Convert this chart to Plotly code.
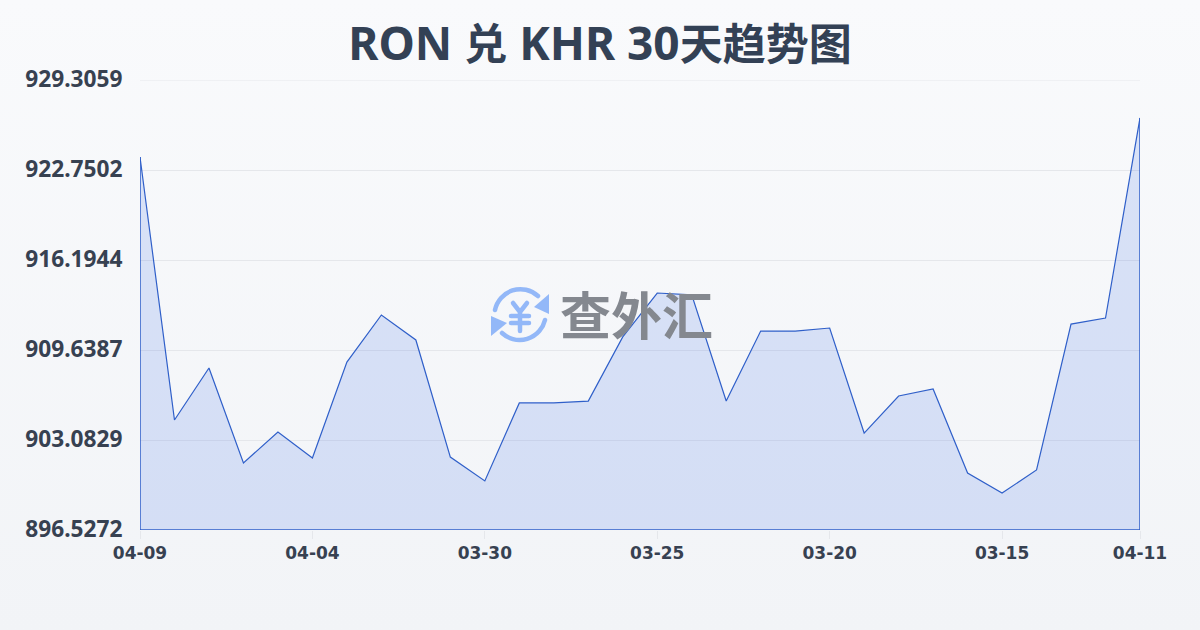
import base64
import plotly.graph_objects as go

TITLE = "RON 兑 KHR 30天趋势图"
TITLE_PARTS = [("RON ", 0), ("兑", 1), (" KHR 30", 0), ("天趋势图", 1)]
WATERMARK = "查外汇"
dates = ["04-09","04-08","04-07","04-06","04-05","04-04","04-03","04-02","04-01","03-31",
         "03-30","03-29","03-28","03-27","03-26","03-25","03-24","03-23","03-22","03-21",
         "03-20","03-19","03-18","03-17","03-16","03-15","03-14","03-13","03-12","04-11"]
rates = [923.70,904.54,908.33,901.41,903.67,901.77,908.76,912.19,910.37,901.84,
         900.10,905.78,905.78,905.92,910.59,913.79,913.65,905.92,911.02,911.02,
         911.24,903.59,906.29,906.80,900.68,899.22,900.90,911.53,911.97,926.54]
y_ticks = [896.5272,903.0829,909.6387,916.1944,922.7502,929.3059]
x_tick_idx = [0,5,10,15,20,25,29]

FONT = "Noto Sans, Noto Sans CJK SC, sans-serif"
XFONT = "DejaVu Sans, sans-serif"
CJK = "Noto Sans CJK SC, sans-serif"
LINE = "#2f5fc9"
idx = list(range(len(dates)))
ymin, ymax = y_ticks[0], y_ticks[-1]

def data_uri(svg):
    return "data:image/svg+xml;base64," + base64.b64encode(svg.encode()).decode()

bg_svg = ('<svg xmlns="http://www.w3.org/2000/svg" width="1200" height="630"><defs>'
          '<linearGradient id="g" x1="0" y1="0" x2="0" y2="1"><stop offset="0" stop-color="#f9fafc"/>'
          '<stop offset="1" stop-color="#f2f4f7"/></linearGradient></defs>'
          '<rect width="1200" height="630" fill="url(#g)"/></svg>')
icon_svg = ('<svg xmlns="http://www.w3.org/2000/svg" width="60" height="60" viewBox="0 0 60 60">'
            '<g fill="none" stroke="#93b8f8" stroke-width="4.5" stroke-linecap="round" stroke-linejoin="round">'
            '<path d="M4 25 A26 26 0 0 1 47 11"/><path d="M54 35 A26 26 0 0 1 11 48"/>'
            '<path d="M22 18 L29 27 L36 18 M29 27 V46 M20 31 H38 M20 38 H38"/></g>'
            '<path d="M58 9 V29 L43 22 Z" fill="#93b8f8"/><path d="M0 31 V51 L16 38 Z" fill="#93b8f8"/></svg>')

title_html = "".join(
    f'<span style="font-size:{43 if is_cjk else 46}px;font-family:{CJK if is_cjk else FONT}">{part}</span>'
    for part, is_cjk in TITLE_PARTS)

fig = go.Figure()
fig.add_trace(go.Scatter(
    x=idx, y=rates, mode="lines", line=dict(color=LINE, width=1.2),
    fill="tozeroy", fillcolor="rgba(37,95,228,0.15)", hoverinfo="skip", showlegend=False))
fig.add_trace(go.Scatter(
    x=[idx[0], idx[0], idx[-1], idx[-1]], y=[rates[0], ymin, ymin, rates[-1]],
    mode="lines", line=dict(color=LINE, width=1.5), hoverinfo="skip", showlegend=False, cliponaxis=False))

fig.update_layout(
    width=1200, height=630, margin=dict(l=140, r=60, t=80, b=100),
    paper_bgcolor="#f5f7fa", plot_bgcolor="rgba(0,0,0,0)", showlegend=False,
    font=dict(family=FONT, color="#374151"),
    title=dict(text=f"<b>{title_html}</b>", x=0.5, xanchor="center", y=0.929, yanchor="middle",
               font=dict(size=44, color="#334155", family=FONT)),
    xaxis=dict(range=[0, len(dates)-1], tickmode="array", tickvals=x_tick_idx,
               ticktext=[f"<b>{dates[i]}</b>" for i in x_tick_idx],
               showgrid=False, zeroline=False, showline=False, ticks="outside",
               ticklen=8, tickcolor="#e5e7eb", tickwidth=1,
               tickfont=dict(size=17, color="#374151", family=XFONT)),
    yaxis=dict(range=[ymin, ymax], tickmode="array", tickvals=y_ticks,
               ticktext=[f"<b>{v:.4f}</b>" for v in y_ticks],
               showgrid=True, gridcolor="#e5e7eb", gridwidth=1, zeroline=False, showline=False,
               ticks="outside", ticklen=12, tickcolor="rgba(0,0,0,0)", ticklabelshift=-1,
               tickfont=dict(size=22.7, color="#374151", family=FONT)),
    shapes=[dict(type="line", xref="paper", x0=0, x1=1, yref="y", y0=ymax, y1=ymax,
                 line=dict(color="#e5e7eb", width=1), layer="below")],
    images=[
        dict(source=data_uri(bg_svg), xref="paper", yref="paper", x=-140/1000, y=1+80/450,
             sizex=1.2, sizey=1.4, sizing="stretch", xanchor="left", yanchor="top", layer="below"),
        dict(source=data_uri(icon_svg), xref="paper", yref="paper", x=351/1000, y=1-(285-80)/450,
             sizex=60/1000, sizey=60/450, sizing="stretch", xanchor="left", yanchor="top", layer="below"),
    ],
    annotations=[dict(text=f"<b>{WATERMARK}</b>", xref="paper", yref="paper",
                      x=(636-140)/1000, y=1-(313-80)/450, showarrow=False, xanchor="center", yanchor="middle",
                      font=dict(size=51, color="#84888f", family=CJK))],
)
fig.write_html("out.html", config={"displayModeBar": False},
               post_script="document.body.style.margin='0';document.documentElement.style.overflow='hidden';")
